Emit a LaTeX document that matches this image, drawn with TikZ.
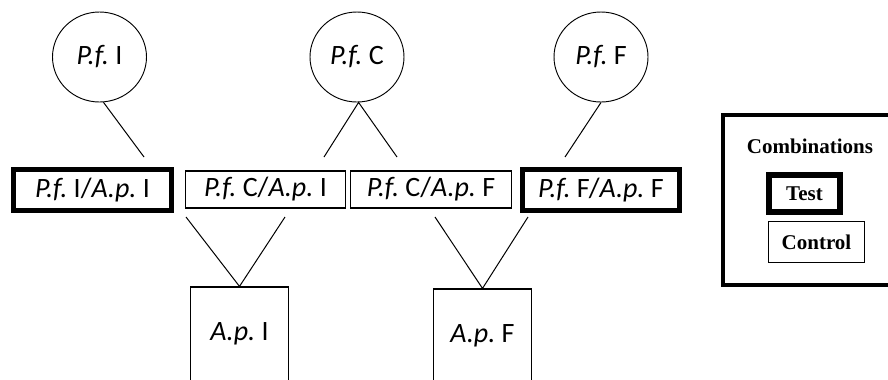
\documentclass[tikz,border=0pt]{standalone}
\usepackage{fontspec}
\setmainfont{Carlito}
\newfontfamily\legendfont{Liberation Serif}
\usetikzlibrary{shapes.geometric}
\frenchspacing

\begin{document}
\begin{tikzpicture}[
  x=0.75pt, y=-0.75pt,
  label font/.style={font=\fontsize{21}{24}\selectfont},
  isolate/.style={draw, ellipse, inner sep=0pt, minimum width=70.5pt, minimum height=67.5pt, line width=0.7pt, label font},
  testbox/.style={draw, line width=3.9pt, inner sep=0pt, minimum width=118pt, minimum height=30.4pt, label font},
  ctrlbox/.style={draw, line width=0.9pt, inner sep=0pt, minimum width=120.5pt, minimum height=27.75pt, label font},
  hostbox/.style={draw, line width=0.9pt, inner sep=0pt, minimum width=74pt, minimum height=70.5pt, label font},
  legendkey/.style={draw, inner sep=0pt, font=\legendfont\bfseries\fontsize{15.75}{18}\selectfont},
  link/.style={line width=0.75pt}
]
  \useasboundingbox (0,0) rectangle (888,379);
  \clip (0,0) rectangle (888,379);

  % top row: the three isolates
  \node[isolate] (pfi) at (99.5,57) {\textit{P.f.} I};
  \node[isolate] (pfc) at (357,57)  {\textit{P.f.} C};
  \node[isolate] (pff) at (601,57)  {\textit{P.f.} F};

  % middle row: pairings
  \node[testbox] (pfi-api) at (92.5,190)  {\textit{P.f.} I/\textit{A.p.} I};
  \node[ctrlbox] (pfc-api) at (265.5,189.5) {\textit{P.f.} C/\textit{A.p.} I};
  \node[ctrlbox] (pfc-apf) at (431,189.5) {\textit{P.f.} C/\textit{A.p.} F};
  \node[testbox] (pff-apf) at (601,190)   {\textit{P.f.} F/\textit{A.p.} F};

  % bottom row: hosts (run off the lower edge)
  \node[hostbox] (api) at (239.5,334) {\textit{A.p.} I};
  \node[hostbox] (apf) at (482.5,336) {\textit{A.p.} F};

  % loose ends of the connectors
  \coordinate (pfi-end)  at (144,157);
  \coordinate (pfc-endl) at (324,157);
  \coordinate (pfc-endr) at (397,157);
  \coordinate (pff-end)  at (565,157);
  \coordinate (api-endl) at (186,217);
  \coordinate (api-endr) at (285,217);
  \coordinate (apf-endl) at (435,217);
  \coordinate (apf-endr) at (528,217);

  \draw[link] (pfi.-85) -- (pfi-end);
  \draw[link] (pfc-endl) -- (pfc.-88) -- (pfc-endr);
  \draw[link] (pff.south) -- (pff-end);
  \draw[link] (api-endl) -- (api.north) -- (api-endr);
  \draw[link] (apf-endl) -- (apf.north) -- (apf-endr);

  % legend
  \node[draw, line width=3pt, minimum width=133.5pt, minimum height=127.5pt] (legend) at (811.5,200) {};
  \node[legendkey, draw=none] (combi) at (810,146) {Combinations};
  \node[legendkey, line width=4.5pt, minimum width=53.25pt, minimum height=27.75pt] (keytest) at (804.5,193.5) {Test};
  \node[legendkey, line width=1pt, minimum width=72pt, minimum height=30.75pt] (keyctrl) at (816.5,242) {Control};
\end{tikzpicture}
\end{document}
